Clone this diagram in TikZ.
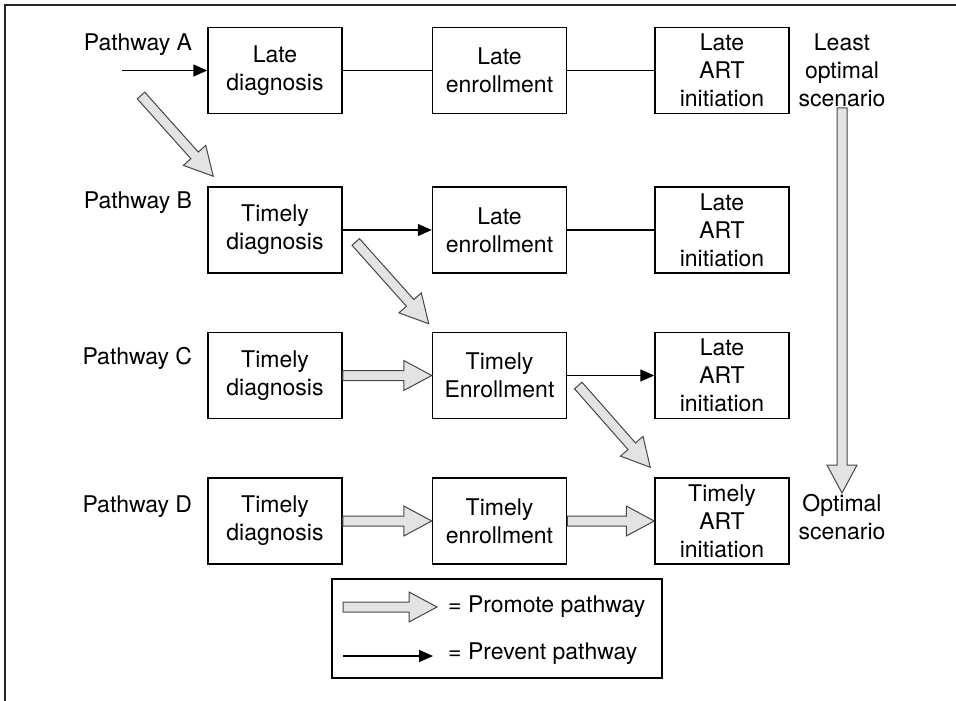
\documentclass[tikz,border=0pt]{standalone}
\usepackage{fontspec}
\setmainfont{TeX Gyre Heros}
\usetikzlibrary{positioning, calc, arrows.meta}

\tikzset{
  stage/.style={draw, line width=1.5pt, minimum width=134pt, minimum height=86pt, align=center, inner sep=2pt},
  pathlbl/.style={anchor=base east, inner sep=0pt},
  link/.style={line width=1.5pt},
  prevent/.style={line width=1.5pt, -{Triangle[length=14pt, width=12pt]}},
  promote/.style={draw=gray!55!black, fill=gray!22, line width=1pt, line join=miter,
    to path={($(\tikztostart)!5pt!90:(\tikztotarget)$)
      -- ($(\tikztotarget)!28pt!(\tikztostart)!5pt!-90:(\tikztostart)$)
      -- ($(\tikztotarget)!28pt!(\tikztostart)!15pt!-90:(\tikztostart)$)
      -- (\tikztotarget)
      -- ($(\tikztotarget)!28pt!(\tikztostart)!15pt!90:(\tikztostart)$)
      -- ($(\tikztotarget)!28pt!(\tikztostart)!5pt!90:(\tikztostart)$)
      -- ($(\tikztostart)!5pt!-90:(\tikztotarget)$) -- cycle}},
}

\begin{document}
\begin{tikzpicture}[x=1pt, y=-1pt, font=\fontsize{23}{28}\selectfont, node distance=88pt]
  \useasboundingbox (0,0) rectangle (956,701);
  \draw[line width=1.5pt, gray!30!black] (5,701) -- (5,5) -- (956,5);

  % pathway A
  \node[stage] (a1) at (275,70.5) {Late\\diagnosis};
  \node[stage, right=89pt of a1] (a2) {Late\\enrollment};
  \node[stage, right=87pt of a2] (a3) {Late\\ART\\initiation};
  % pathway B
  \node[stage, below=72pt of a1] (b1) {Timely\\diagnosis};
  \node[stage, right=89pt of b1] (b2) {Late\\enrollment};
  \node[stage, right=87pt of b2] (b3) {Late\\ART\\initiation};
  % pathway C
  \node[stage, below=58pt of b1] (c1) {Timely\\diagnosis};
  \node[stage, right=89pt of c1] (c2) {Timely\\Enrollment};
  \node[stage, right=87pt of c2] (c3) {Late\\ART\\initiation};
  % pathway D
  \node[stage, below=58pt of c1] (d1) {Timely\\diagnosis};
  \node[stage, right=89pt of d1] (d2) {Timely\\enrollment};
  \node[stage, right=87pt of d2] (d3) {Timely\\ART\\initiation};

  \node[pathlbl] (pa) at ([shift={(-15,23.5)}]a1.north west) {Pathway A};
  \node[pathlbl] (pb) at ([shift={(-15,22)}]b1.north west) {Pathway B};
  \node[pathlbl] (pc) at ([shift={(-15,33)}]c1.north west) {Pathway C};
  \node[pathlbl] (pd) at ([shift={(-15,35)}]d1.north west) {Pathway D};

  \node[align=center, inner sep=1pt] (least) at (842,70) {Least\\optimal\\scenario};
  \node[align=center, inner sep=1pt] (optimal) at (842,517) {Optimal\\scenario};

  \coordinate (ain) at (122,70.5);
  \draw[prevent] (ain) -- (a1);
  \draw[link] (a1) -- (a2);
  \draw[link] (a2) -- (a3);
  \draw[prevent] (b1) -- (b2);
  \draw[link] (b2) -- (b3);
  \draw[promote] (c1.east) to (c2.west);
  \draw[prevent] (c2) -- (c3);
  \draw[promote] (d1.east) to (d2.west);
  \draw[promote] (d2.east) to (d3.west);

  \draw[promote] ([shift={(19,25)}]ain) to ([shift={(6,-10)}]b1.north west);
  \draw[promote] ([shift={(13,12)}]b1.east) to ([shift={(-3,-8)}]c2.north west);
  \draw[promote] ([shift={(11,10)}]c2.east) to ([shift={(-4,-10)}]d3.north west);
  \draw[promote] (least.south) to (optimal.north);

  % legend
  \node[draw, line width=1.5pt, minimum width=330pt, minimum height=99pt] (legend) at (497,628.5) {};
  \coordinate (pm1) at (343,607);
  \coordinate (pm2) at (437,607);
  \coordinate (pv1) at (343,656);
  \coordinate (pv2) at (433,656);
  \draw[promote] (pm1) to (pm2);
  \draw[prevent] (pv1) -- (pv2);
  \node[anchor=west, inner sep=0pt] (pmtext) at (448,607) {= Promote pathway};
  \node[anchor=west, inner sep=0pt] (pvtext) at (448,654) {= Prevent pathway};
\end{tikzpicture}
\end{document}
